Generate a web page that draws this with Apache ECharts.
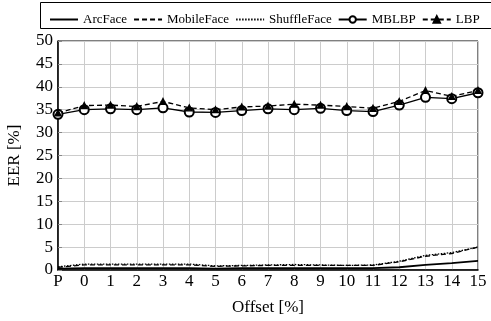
<!DOCTYPE html>
<html><head><meta charset="utf-8">
<script src="https://cdn.jsdelivr.net/npm/echarts@6/dist/echarts.min.js"></script>
<style>html,body{margin:0;padding:0;background:#fff}#c{width:491px;height:321px}</style>
</head><body><div id="c"></div>
<script>
var categories = ['P','0','1','2','3','4','5','6','7','8','9','10','11','12','13','14','15'];
var arcFace = [0.3,0.4,0.4,0.4,0.4,0.4,0.3,0.4,0.4,0.4,0.4,0.4,0.4,0.6,1.1,1.5,2.0];
var mobileFace = [0.6,1.1,1.1,1.1,1.1,1.1,0.8,0.9,1.0,1.0,1.0,1.0,1.0,1.8,3.0,3.6,5.0];
var shuffleFace = [0.7,1.3,1.3,1.3,1.3,1.3,0.9,1.0,1.1,1.2,1.1,1.0,1.1,1.9,3.2,3.8,5.0];
var mblbp = [34.0,35.0,35.2,35.0,35.4,34.5,34.4,34.8,35.2,35.0,35.3,34.8,34.6,36.0,37.7,37.4,38.7];
var lbp = [34.3,35.9,36.0,35.7,36.8,35.4,35.0,35.6,35.8,36.2,36.0,35.7,35.3,36.8,39.2,37.9,39.2];
var seriesNames = ['ArcFace','MobileFace','ShuffleFace','MBLBP','LBP'];
var yTicks = {min:0, max:50, interval:5};

var font = 'Liberation Serif';
var chart = echarts.init(document.getElementById('c'), null, {renderer:'canvas'});
function line(name, data, type, symbol, size, width){
  return {name:name, type:'line', data:data, symbol:symbol||'none', symbolSize:size||0,
    showSymbol: !!symbol,
    lineStyle:{color:'#000', width:width||1.3, type:type},
    itemStyle:{color:'#000', borderColor:'#000', borderWidth:1.3},
    z: 3, animation:false};
}
chart.setOption({
  animation:false,
  textStyle:{fontFamily:font},
  graphic:[{type:'rect', shape:{x:40.5,y:2.5,width:470,height:26}, style:{fill:'none', stroke:'#000', lineWidth:1}}],
  legend:{left:44, top:8, width:470, itemWidth:28, itemHeight:8, itemGap:6,
    textStyle:{fontFamily:font, fontSize:13, color:'#000'},
    data:[
      {name:seriesNames[0], itemStyle:{opacity:0}},
      {name:seriesNames[1], itemStyle:{opacity:0}},
      {name:seriesNames[2], itemStyle:{opacity:0}},
      {name:seriesNames[3]},
      {name:seriesNames[4]}
    ]},
  grid:{left:58, right:13, top:41, bottom:51, show:true, borderColor:'#000', borderWidth:1,
    containLabel:false, outerBoundsMode:'none'},
  xAxis:{type:'category', data:categories, boundaryGap:false,
    name:'Offset [%]', nameLocation:'middle', nameGap:29,
    nameTextStyle:{fontFamily:font, fontSize:17, color:'#000'},
    axisLine:{lineStyle:{color:'#000', width:1.5}},
    axisTick:{show:false},
    axisLabel:{fontFamily:font, fontSize:17, color:'#000', margin:3},
    splitLine:{show:true, lineStyle:{color:'#ccc', width:1}}},
  yAxis:{type:'value', min:yTicks.min, max:yTicks.max, interval:yTicks.interval,
    name:'EER [%]', nameLocation:'middle', nameGap:35, nameRotate:90,
    nameTextStyle:{fontFamily:font, fontSize:17, color:'#000'},
    axisLine:{show:true, lineStyle:{color:'#000', width:1.5}},
    axisTick:{show:true, inside:true, length:4, lineStyle:{color:'#888'}},
    axisLabel:{fontFamily:font, fontSize:17, color:'#000', margin:5},
    splitLine:{show:true, lineStyle:{color:'#ccc', width:1}}},
  series:[
    line(seriesNames[0], arcFace, 'solid', null, 0, 1.8),
    line(seriesNames[1], mobileFace, [5,3]),
    line(seriesNames[2], shuffleFace, [1.5,1.5]),
    line(seriesNames[3], mblbp, 'solid', 'emptyCircle', 9),
    line(seriesNames[4], lbp, [5,3], 'triangle', 6)
  ]
});
</script></body></html>
